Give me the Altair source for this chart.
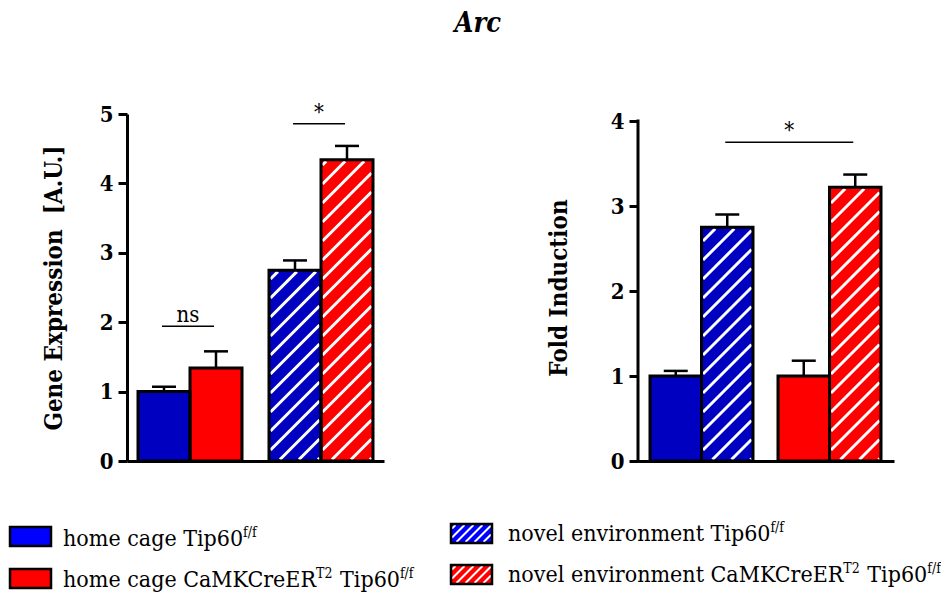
import glob
import altair as alt
import numpy as np
import pandas as pd

# ---------------- data ----------------
cond_keys = ["home_ctrl", "home_cko", "novel_ctrl", "novel_cko"]
cond_hatched = [False, False, True, True]
legend_text = [
    [("home cage Tip60", False), ("f/f", True)],
    [("home cage CaMKCreER", False), ("T2", True), (" Tip60", False), ("f/f", True)],
    [("novel environment Tip60", False), ("f/f", True)],
    [("novel environment CaMKCreER", False), ("T2", True), (" Tip60", False), ("f/f", True)],
]

ge_order = ["home_ctrl", "home_cko", "novel_ctrl", "novel_cko"]
ge_mean = [1.00, 1.34, 2.75, 4.34]
ge_sem = [0.07, 0.24, 0.14, 0.20]
ge_ticks = [0, 1, 2, 3, 4, 5]
ge_title = "Gene Expression\u00a0 [A.U.]"
ge_sig = [("home_ctrl", "home_cko", 1.94, "ns"), ("novel_ctrl", "novel_cko", 4.86, "*")]

fi_order = ["home_ctrl", "novel_ctrl", "home_cko", "novel_cko"]
fi_mean = [1.00, 2.75, 1.00, 3.22]
fi_sem = [0.06, 0.15, 0.18, 0.15]
fi_ticks = [0, 1, 2, 3, 4]
fi_title = "Fold Induction"
fi_sig = [("novel_ctrl", "novel_cko", 3.75, "*")]

chart_title = "Arc"

# ---------------- styles / layout ----------------
FONT = "DejaVu Serif Condensed"
bar_fill = ["#0000C0", "#FF0000", "#0000C0", "#FF0000"]
legend_fill = ["#0000FF", "#FF0000", "#0000FF", "#FF0000"]
PLOT_H = 347
CAP = 24
P_BAR = 19.0
P_LEG = 9.0
LEG_FS = 23
SUP_FS = 14
SUP_RAISE = 9


def measure(s, size):
    try:
        from PIL import ImageFont
        paths = glob.glob("/usr/share/fonts/**/DejaVuSerifCondensed.ttf", recursive=True)
        f = ImageFont.truetype(paths[0], size)
        return float(f.getlength(s))
    except Exception:
        w = {" ": .318, "/": .337}
        tot = 0.0
        for ch in s:
            if ch in w:
                tot += w[ch]
            elif ch.isdigit():
                tot += .636
            elif ch.isupper():
                tot += .74
            elif ch in "ilj":
                tot += .32
            elif ch in "mw":
                tot += .9
            elif ch in "ft":
                tot += .39
            else:
                tot += .6
        return tot * size * 0.9


def hatch(x0, x1, y0, y1, period, inset):
    x0 += inset; x1 -= inset; y0 += inset; y1 -= inset
    w = x1 - x0
    h = y1 - y0
    segs = []
    if w <= 0 or h <= 0:
        return segs
    for k in range(int(np.floor(-w / period)) - 1, int(np.ceil(h / period)) + 2):
        b = k * period + period / 2
        tmin = max(0.0, -b)
        tmax = min(w, h - b)
        if tmax - tmin > 0.3:
            segs.append((x0 + tmin, y0 + tmin + b, x0 + tmax, y0 + tmax + b))
    return segs


def panel(order, mean, sem, ticks, ymax, ytitle, sig, width, start, bw, gap, axis_domain, tpad):
    x0 = [start + i * bw + (gap if i >= 2 else 0) for i in range(len(order))]
    xc = [a + bw / 2 for a in x0]
    ppy = PLOT_H / ymax
    bars = pd.DataFrame(dict(
        key=order, x0=x0, x1=[a + bw for a in x0], xc=xc, mean=mean,
        top=[m + s for m, s in zip(mean, sem)],
        c0=[c - CAP / 2 for c in xc], c1=[c + CAP / 2 for c in xc], zero=0.0))
    xs = alt.Scale(domain=[0, width], nice=False, zero=False)
    ys = alt.Scale(domain=[0, ymax], nice=False, zero=True)
    fill_scale = alt.Scale(domain=cond_keys, range=bar_fill)
    xaxis = alt.Axis(title=None, labels=False, ticks=False, grid=False, domain=True)
    yaxis = alt.Axis(title=ytitle, values=ticks, grid=False, domain=axis_domain, format="d",
                     titlePadding=tpad)

    def X(f):
        return alt.X(f, type="quantitative", scale=xs, axis=xaxis)

    def Y(f):
        return alt.Y(f, type="quantitative", scale=ys, axis=yaxis)

    base = alt.Chart(bars)
    fill = base.mark_rect().encode(
        x=X("x0"), x2="x1", y=Y("mean"), y2="zero",
        fill=alt.Fill("key:N", scale=fill_scale, legend=None))
    segs = []
    for k, a, m in zip(order, x0, mean):
        if cond_hatched[cond_keys.index(k)]:
            for (ax, ay, bx, by) in hatch(a, a + bw, 0, m * ppy, P_BAR, 1.5):
                segs.append(dict(xa=ax, ya=ay / ppy, xb=bx, yb=by / ppy))
    hatch_layer = alt.Chart(pd.DataFrame(segs)).mark_rule(
        color="white", strokeWidth=3, strokeCap="butt").encode(
        x=X("xa"), x2="xb", y=Y("ya"), y2="yb")
    outline = base.mark_rect(fill="white", fillOpacity=0, stroke="black", strokeWidth=3).encode(
        x=X("x0"), x2="x1", y=Y("mean"), y2="zero")
    err_v = base.mark_rule(color="black", strokeWidth=2.5).encode(
        x=X("xc"), y=Y("mean"), y2="top")
    err_c = base.mark_rule(color="black", strokeWidth=2.5).encode(
        x=X("c0"), x2="c1", y=Y("top"))
    sdf = pd.DataFrame([dict(xa=xc[order.index(a)] - 2, xb=xc[order.index(b)] - 2,
                             xm=(xc[order.index(a)] + xc[order.index(b)]) / 2 - 2,
                             h=h, lab=lab) for a, b, h, lab in sig])
    sig_rule = alt.Chart(sdf).mark_rule(color="black", strokeWidth=1.5).encode(
        x=X("xa"), x2="xb", y=Y("h"))
    sig_text = alt.Chart(sdf).mark_text(font=FONT, fontSize=22, color="black",
                                        baseline="alphabetic", dy=-4).encode(
        x=X("xm"), y=Y("h"), text="lab:N")
    layers = [fill, hatch_layer, outline, err_v, err_c, sig_rule, sig_text]
    if not axis_domain:
        ddf = pd.DataFrame({"d": [0], "v0": [0], "v1": [ticks[-1]]})
        dom = alt.Chart(ddf).mark_rule(color="black", strokeWidth=3, strokeCap="square").encode(
            x=X("d"), y=Y("v0"), y2="v1")
        layers.append(dom)
    return alt.layer(*layers).properties(width=width, height=PLOT_H)


left = panel(ge_order, ge_mean, ge_sem, ge_ticks, 5.0, ge_title, ge_sig,
             width=257, start=11, bw=52, gap=27, axis_domain=True, tpad=33)
right = panel(fi_order, fi_mean, fi_sem, fi_ticks, 4.0 * PLOT_H / 340, fi_title, fi_sig,
              width=256, start=12, bw=51.5, gap=25, axis_domain=False, tpad=39)

# ---------------- legend (absolute-like pixel units) ----------------
LEG_W, LEG_H, LEG_TOP, ORIGIN_X = 250, 75, 515, 126
col_box_x = [9, 450]
col_text_x = [62, 507]
box_top = {0: [527, 569], 1: [524, 565]}
base_line = {0: [546, 587], 1: [541, 582]}
BOX_W, BOX_H = 41, 19

boxes, lsegs, ltexts = [], [], []
for i, key in enumerate(cond_keys):
    col, row = i // 2, i % 2
    bx0 = col_box_x[col]
    by0 = box_top[col][row]
    boxes.append(dict(lkey=key, u0=bx0, u1=bx0 + BOX_W, v0=by0, v1=by0 + BOX_H))
    if cond_hatched[i]:
        for (ax, ay, cx, cy) in hatch(bx0, bx0 + BOX_W, 0, BOX_H, P_LEG, 1.0):
            lsegs.append(dict(ua=ax, va=by0 + BOX_H - ay, ub=cx, vb=by0 + BOX_H - cy))
    u = col_text_x[col]
    for txt, sup in legend_text[i]:
        fs = SUP_FS if sup else LEG_FS
        lead = len(txt) - len(txt.lstrip(" "))
        u += measure(" " * lead, fs)
        core = txt.strip(" ")
        ltexts.append(dict(u=u, v=base_line[col][row] - (SUP_RAISE if sup else 0), t=core, fs=fs))
        u += measure(core, fs) + (1 if sup else 0)

lx = alt.Scale(domain=[ORIGIN_X, ORIGIN_X + LEG_W], range=[0, LEG_W])
ly = alt.Scale(domain=[LEG_TOP, LEG_TOP + LEG_H], range=[0, LEG_H])
bdf = pd.DataFrame(boxes)
leg_fill = alt.Chart(bdf).mark_rect().encode(
    x=alt.X("u0:Q", scale=lx, axis=None), x2="u1",
    y=alt.Y("v0:Q", scale=ly, axis=None), y2="v1",
    fill=alt.Fill("lkey:N", scale=alt.Scale(domain=cond_keys, range=legend_fill), legend=None))
leg_hatch = alt.Chart(pd.DataFrame(lsegs)).mark_rule(color="white", strokeWidth=2, strokeCap="butt").encode(
    x=alt.X("ua:Q", scale=lx, axis=None), x2="ub",
    y=alt.Y("va:Q", scale=ly, axis=None), y2="vb")
leg_out = alt.Chart(bdf).mark_rect(fill="white", fillOpacity=0, stroke="black", strokeWidth=2.5).encode(
    x=alt.X("u0:Q", scale=lx, axis=None), x2="u1",
    y=alt.Y("v0:Q", scale=ly, axis=None), y2="v1")
leg_txt = alt.Chart(pd.DataFrame(ltexts)).mark_text(
    font=FONT, align="left", baseline="alphabetic", color="black").encode(
    x=alt.X("u:Q", scale=lx, axis=None), y=alt.Y("v:Q", scale=ly, axis=None),
    text="t:N", size=alt.Size("fs:Q", scale=None, legend=None))
legend = alt.layer(leg_fill, leg_hatch, leg_out, leg_txt).properties(width=LEG_W, height=LEG_H)

chart = alt.concat(
    left, right, legend, columns=2, align="none", bounds="flush",
    spacing={"row": LEG_TOP - (114 + PLOT_H), "column": 254},
).resolve_scale(fill="independent").properties(
    title=alt.TitleParams(chart_title, font=FONT, fontSize=27, fontWeight="bold",
                          fontStyle="italic", color="black", anchor="middle", offset=64, dx=3),
    padding={"left": 0, "top": 1, "right": 0, "bottom": 0},
).configure_view(strokeWidth=0).configure_axis(
    labelFont=FONT, labelFontWeight="bold", labelFontSize=22, labelColor="black",
    titleFont=FONT, titleFontWeight="bold", titleFontSize=24, titleColor="black",
    domainColor="black", domainWidth=3, tickColor="black", tickWidth=3, tickSize=9,
    labelPadding=5, grid=False,
)

chart.save("out.html", embed_options={"renderer": "svg", "actions": False})
